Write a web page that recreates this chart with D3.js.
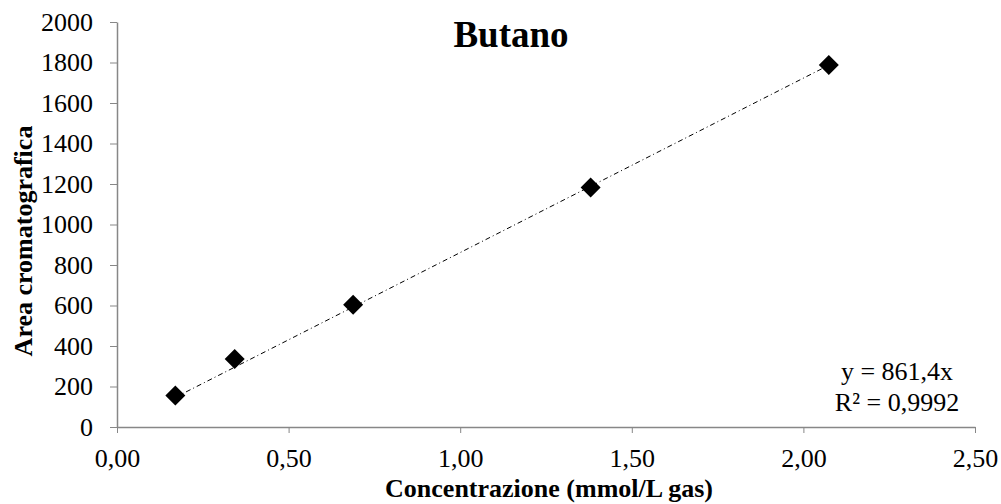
<html>
<script src="https://cdn.jsdelivr.net/npm/d3@7"></script>
<style>
body { margin: 0; background: #fff; }
text { font-family: "Liberation Serif", "Times New Roman", serif; fill: #000; }
.axis path, .axis line { stroke: #878787; }
</style>
<body>
<svg width="1001" height="504"></svg>
<script>
// data
var conc = [0.170, 0.343, 0.688, 1.380, 2.074];
var area = [156, 336, 604, 1183, 1788];
var slope = 861.4;
var xTicks = [0, 0.5, 1, 1.5, 2, 2.5];
var yTicks = [0, 200, 400, 600, 800, 1000, 1200, 1400, 1600, 1800, 2000];
var eqLines = ["y = 861,4x", "R² = 0,9992"];

var mLeft = 117, mRight = 975, mTop = 22, mBottom = 427;

var it = d3.formatLocale({decimal: ",", thousands: ".", grouping: [3], currency: ["", "€"]});

var x = d3.scaleLinear().domain([0, 2.5]).range([mLeft, mRight]);
var y = d3.scaleLinear().domain([0, 2000]).range([mBottom, mTop]);

var svg = d3.select("svg");

var xAxis = d3.axisBottom(x).tickValues(xTicks).tickFormat(it.format(".2f")).tickSize(6).tickSizeOuter(0);
var yAxis = d3.axisLeft(y).tickValues(yTicks).tickFormat(d3.format("d")).tickSize(7).tickPadding(17).tickSizeOuter(0);

var gx = svg.append("g").attr("class", "axis").attr("transform", "translate(0," + mBottom + ")").call(xAxis);
var gy = svg.append("g").attr("class", "axis").attr("transform", "translate(" + mLeft + ",0)").call(yAxis);
svg.selectAll(".axis path").attr("stroke-width", 1.5);
svg.selectAll(".axis text").attr("font-size", 26).attr("font-family", "Liberation Serif").attr("fill", "#000");
gx.selectAll("text").attr("y", 40).attr("dy", 0);

// trendline y = slope * x over the data range
var trend = d3.extent(conc).map(function(c) { return [c, slope * c]; });
svg.append("path")
  .datum(trend)
  .attr("fill", "none")
  .attr("stroke", "#000")
  .attr("stroke-width", 1)
  .attr("stroke-dasharray", "5,3,1,3")
  .attr("d", d3.line().x(function(d) { return x(d[0]); }).y(function(d) { return y(d[1]); }));

// diamond markers
var diamond = d3.symbol().type(d3.symbolSquare).size(200);
svg.selectAll(".pt")
  .data(conc)
  .enter().append("path")
  .attr("class", "pt")
  .attr("d", diamond)
  .attr("fill", "#000")
  .attr("transform", function(d, i) { return "translate(" + x(d) + "," + y(area[i]) + ") rotate(45)"; });

// title
svg.append("text")
  .attr("x", 511).attr("y", 47)
  .attr("text-anchor", "middle")
  .attr("font-size", 37).attr("font-weight", "bold")
  .text("Butano");

// axis titles
svg.append("text")
  .attr("x", 549).attr("y", 497)
  .attr("text-anchor", "middle")
  .attr("font-size", 26).attr("font-weight", "bold")
  .text("Concentrazione (mmol/L gas)");

svg.append("text")
  .attr("transform", "translate(32,241) rotate(-90)")
  .attr("text-anchor", "middle")
  .attr("font-size", 26).attr("font-weight", "bold")
  .text("Area cromatografica");

// equation label
svg.selectAll(".eq")
  .data(eqLines)
  .enter().append("text")
  .attr("class", "eq")
  .attr("x", 897)
  .attr("y", function(d, i) { return 380 + i * 31; })
  .attr("text-anchor", "middle")
  .attr("font-size", 26)
  .text(function(d) { return d; });
</script>
</body>
</html>
